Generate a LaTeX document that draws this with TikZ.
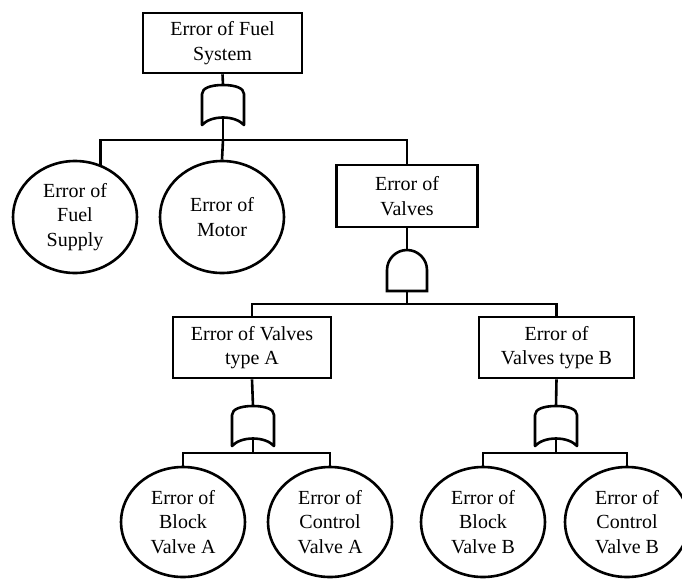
\documentclass[tikz,border=0pt]{standalone}
\usepackage{fontspec}
\setmainfont{Liberation Serif}
\newfontfamily\labelfont{Liberation Serif}
\usetikzlibrary{shapes.geometric}

\tikzset{
  every node/.style={font=\labelfont\fontsize{20}{24.5}\selectfont, align=center},
  lw/.style={line width=2.6pt},
  evbox/.style={draw, lw, rectangle, inner sep=0pt},
  basic/.style={draw, lw, ellipse, inner sep=0pt, minimum width=124pt, minimum height=110pt},
  wire/.style={lw},
  % OR gate: curved top, straight sides, concave bottom; origin at the top centre
  orgate/.pic={
    \draw[lw, line join=round] (-21,40) -- (-21,9) .. controls (-21,3) and (-12,0) .. (0,0)
      .. controls (12,0) and (21,3) .. (21,9) -- (21,40)
      .. controls (12,30) and (-12,30) .. (-21,40) -- cycle;
    \coordinate (-in) at (0,0);
    \coordinate (-out) at (0,33);
  },
  % AND gate: dome top, flat bottom; origin at the top centre
  andgate/.pic={
    \draw[lw, line join=miter] (-20,41) -- (-20,20) .. controls (-20,9) and (-11,0) .. (0,0)
      .. controls (11,0) and (20,9) .. (20,20) -- (20,41) -- cycle;
    \coordinate (-in) at (0,0);
    \coordinate (-out) at (0,41);
  },
}

\begin{document}
\begin{tikzpicture}[x=1pt, y=-1pt]
\useasboundingbox (0,0) rectangle (682,578);

% intermediate events
\node[evbox, minimum width=159pt, minimum height=60pt] (top) at (222.5,43) {Error of Fuel\\System};
\node[evbox, minimum width=141pt, minimum height=62pt] (valves) at (407,196) {Error of\\Valves};
\node[evbox, minimum width=158pt, minimum height=61pt] (typeA) at (252,347.5) {Error of Valves\\type A};
\node[evbox, minimum width=155pt, minimum height=61pt] (typeB) at (556.5,347.5) {Error of\\Valves type B};

% basic events
\node[basic, minimum height=112pt] (fuel) at (75,217) {Error of\\Fuel\\Supply};
\node[basic, minimum height=112pt] (motor) at (222,217) {Error of\\Motor};
\node[basic] (blockA) at (183,522) {Error of\\Block\\Valve A};
\node[basic] (ctrlA) at (330,522) {Error of\\Control\\Valve A};
\node[basic] (blockB) at (483,522) {Error of\\Block\\Valve B};
\node[basic] (ctrlB) at (627,522) {Error of\\Control\\Valve B};

% gates
\pic (g1) at (223,85) {orgate};
\pic (g2) at (407,250) {andgate};
\pic (g3) at (253,406) {orgate};
\pic (g4) at (556,406) {orgate};

% junctions on the horizontal buses
\coordinate (j1) at (223,140);
\coordinate (j2) at (407,304);
\coordinate (j3) at (253,453);
\coordinate (j4) at (556,453);

% connectors
\draw[wire] (top.south) -- (g1-in);
\draw[wire] (g1-out) -- (j1);
\draw[wire] (j1) -| (fuel.64);
\draw[wire] (j1) -- (motor.north);
\draw[wire] (j1) -| (valves.north);

\draw[wire] (valves.south) -- (g2-in);
\draw[wire] (g2-out) -- (j2);
\draw[wire] (j2) -| (typeA.north);
\draw[wire] (j2) -| (typeB.north);

\draw[wire] (typeA.south) -- (g3-in);
\draw[wire] (g3-out) -- (j3);
\draw[wire] (j3) -| (blockA.north);
\draw[wire] (j3) -| (ctrlA.north);

\draw[wire] (typeB.south) -- (g4-in);
\draw[wire] (g4-out) -- (j4);
\draw[wire] (j4) -| (blockB.north);
\draw[wire] (j4) -| (ctrlB.north);
\end{tikzpicture}
\end{document}
